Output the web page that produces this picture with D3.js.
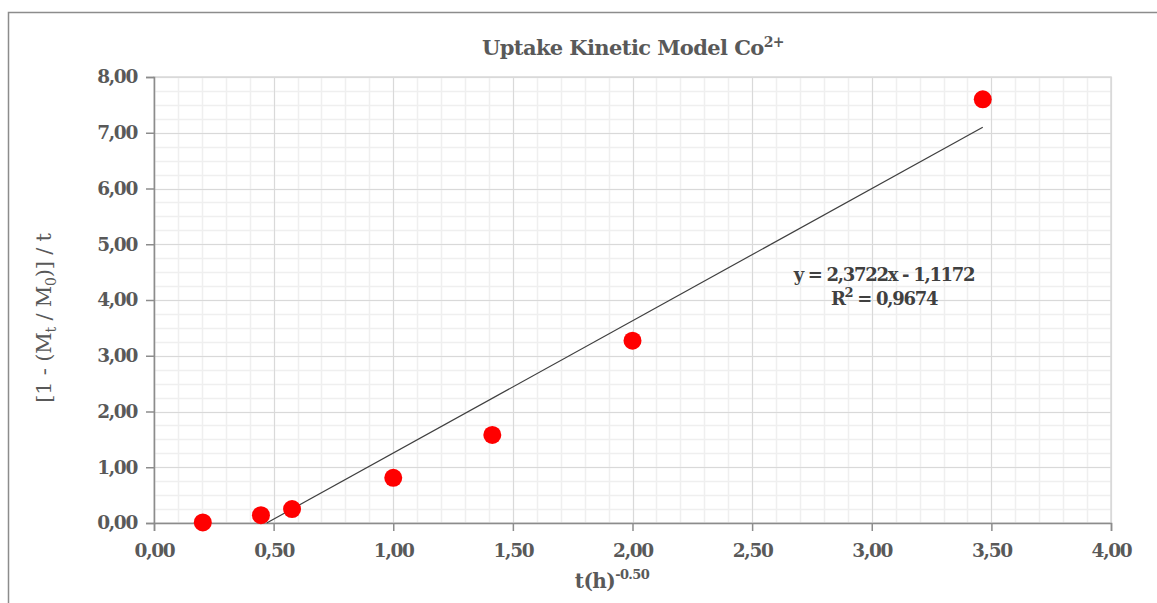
<!DOCTYPE html>
<html><head><meta charset="utf-8">
<script src="https://cdn.jsdelivr.net/npm/d3@7"></script>
<style>body{margin:0;background:#fff}svg{display:block}text{font-family:"DejaVu Serif","Liberation Serif",serif}</style>
</head><body><svg id="c" width="1157" height="603"></svg>
<script>
const xValues = [0.204, 0.447, 0.577, 1.000, 1.414, 2.000, 3.464];
const yValues = [0.01, 0.14, 0.25, 0.81, 1.58, 3.27, 7.60];
const xTicks = [0,0.5,1,1.5,2,2.5,3,3.5,4];
const yTicks = [0,1,2,3,4,5,6,7,8];
const slope = 2.3722, intercept = -1.1172, r2 = 0.9674;

const svg = d3.select("#c");
const fmt = v => d3.format(".2f")(v).replace(".", ",");
const x = d3.scaleLinear().domain([0,4]).range([154,1111]);
const y = d3.scaleLinear().domain([0,8]).range([523,77]);

// outer border
svg.append("path").attr("d","M8.5,603 L8.5,12.5 L1157,12.5").attr("fill","none").attr("stroke","#8c8c8c").attr("stroke-width",1.5);

const g = svg.append("g");
// minor grid
const xMinor = d3.range(0,4.0001,0.1), yMinor = d3.range(0,8.0001,0.25);
g.selectAll(".vx").data(xMinor).join("line").attr("x1",d=>Math.round(x(d))+0.5).attr("x2",d=>Math.round(x(d))+0.5).attr("y1",y(0)).attr("y2",y(8)).attr("stroke","#efefef").attr("stroke-width",1.5);
g.selectAll(".hy").data(yMinor).join("line").attr("y1",d=>Math.round(y(d))+0.5).attr("y2",d=>Math.round(y(d))+0.5).attr("x1",x(0)).attr("x2",x(4)).attr("stroke","#efefef").attr("stroke-width",1.5);
// major grid
g.selectAll(".mx").data(xTicks).join("line").attr("x1",d=>Math.round(x(d))+0.5).attr("x2",d=>Math.round(x(d))+0.5).attr("y1",y(0)).attr("y2",y(8)).attr("stroke","#d9d9d9").attr("stroke-width",1);
g.selectAll(".my").data(yTicks).join("line").attr("y1",d=>Math.round(y(d))+0.5).attr("y2",d=>Math.round(y(d))+0.5).attr("x1",x(0)).attr("x2",x(4)).attr("stroke","#d9d9d9").attr("stroke-width",1);
// plot border
g.append("rect").attr("x",x(0)).attr("y",y(8)).attr("width",x(4)-x(0)).attr("height",y(0)-y(8)).attr("fill","none").attr("stroke","#d9d9d9").attr("stroke-width",1.5);

// axes
const xAxis = svg.append("g").attr("transform",`translate(0,${y(0)})`).call(d3.axisBottom(x).tickValues(xTicks).tickFormat(fmt).tickSize(8).tickPadding(8));
const yAxis = svg.append("g").attr("transform",`translate(${x(0)},0)`).call(d3.axisLeft(y).tickValues(yTicks).tickFormat(fmt).tickSize(8).tickPadding(9));
[xAxis,yAxis].forEach(a=>{
  a.select(".domain").attr("stroke","#8c8c8c").attr("stroke-width",1.5);
  a.selectAll(".tick line").attr("stroke","#8c8c8c").attr("stroke-width",1.5);
  a.selectAll(".tick text").attr("fill","#595959").attr("font-size",18.5).attr("font-weight","bold").style("font-family",'"DejaVu Serif",serif').attr("letter-spacing",-1.3);
});
xAxis.selectAll(".tick text").attr("dy","0.95em");

// trendline clipped to y >= 0
const x0 = Math.max(xValues[0], -intercept/slope), x1 = xValues[xValues.length-1];
svg.append("line").attr("x1",x(x0)).attr("y1",y(slope*x0+intercept)).attr("x2",x(x1)).attr("y2",y(slope*x1+intercept)).attr("stroke","#404040").attr("stroke-width",1.2);

// points
svg.selectAll(".pt").data(xValues).join("circle").attr("cx",d=>x(d)).attr("cy",(d,i)=>y(yValues[i])).attr("r",9).attr("fill","#ff0000");

// title
const t = svg.append("text").attr("x",633).attr("y",55).attr("text-anchor","middle").attr("font-size",21).attr("font-weight","bold").attr("fill","#595959").attr("letter-spacing",-0.6);
t.append("tspan").text("Uptake Kinetic Model Co");
t.append("tspan").attr("dy",-8).attr("font-size",14).text("2+");

// equation
const fmt4 = v => d3.format(".4f")(Math.abs(v)).replace(".", ",");
svg.append("text").attr("x",884).attr("y",281).attr("text-anchor","middle").attr("font-size",18).attr("font-weight","bold").attr("fill","#404040").attr("letter-spacing",-1.3)
  .text(`y = ${fmt4(slope)}x - ${fmt4(intercept)}`);
const rt = svg.append("text").attr("x",884).attr("y",305).attr("text-anchor","middle").attr("font-size",18).attr("font-weight","bold").attr("fill","#404040").attr("letter-spacing",-1.3);
rt.append("tspan").text("R");
rt.append("tspan").attr("dy",-8).attr("font-size",13).text("2");
rt.append("tspan").attr("dy",8).text(` = ${fmt4(r2)}`);

// x label
const xl = svg.append("text").attr("x",612).attr("y",588).attr("text-anchor","middle").attr("font-size",20).attr("font-weight","bold").attr("fill","#595959").attr("letter-spacing",-0.6);
xl.append("tspan").text("t(h)");
xl.append("tspan").attr("dy",-9).attr("font-size",13).text("-0.50");

// y label
const yl = svg.append("text").attr("transform","translate(51,318) rotate(-90)").attr("text-anchor","middle").attr("font-size",21).attr("fill","#595959").attr("letter-spacing",-0.2);
yl.append("tspan").text("[1 - (M");
yl.append("tspan").attr("dy",5).attr("font-size",14).text("t");
yl.append("tspan").attr("dy",-5).text(" / M");
yl.append("tspan").attr("dy",5).attr("font-size",14).text("0");
yl.append("tspan").attr("dy",-5).text(")] / t");
</script></body></html>
